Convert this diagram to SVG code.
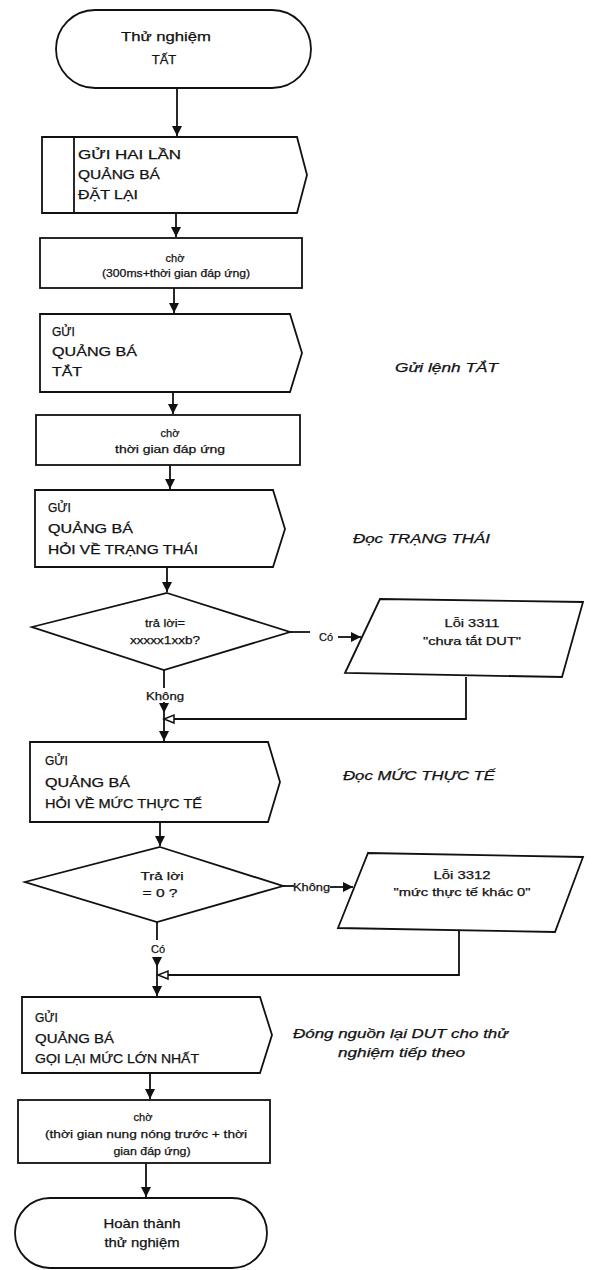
<svg xmlns="http://www.w3.org/2000/svg" width="615" height="1270" viewBox="0 0 615 1270">
<style>
.s{fill:#fff;stroke:#111;stroke-width:1.8;stroke-linejoin:miter}
.c{fill:none;stroke:#111;stroke-width:1.8}
text{font-family:"Liberation Sans",Arial,sans-serif;fill:#111;stroke:#111;stroke-width:0.25}
.b{font-size:12px}
.m{font-size:11px;text-anchor:middle}
.t{font-size:13px;text-anchor:middle}
.i{font-size:12.5px;font-style:italic}
.l{font-size:11px}
</style>
<defs>
<marker id="a" markerUnits="userSpaceOnUse" markerWidth="12" markerHeight="12" refX="10" refY="5" orient="auto"><path d="M0,0 L10,5 L0,10 z" fill="#111"/></marker>
<marker id="o" markerUnits="userSpaceOnUse" markerWidth="14" markerHeight="12" refX="11" refY="5" orient="auto"><path d="M1,1 L11,5 L1,9 z" fill="#fff" stroke="#111" stroke-width="1.5"/></marker>
</defs>
<rect width="615" height="1270" fill="#fff"/>
<g id="connectors">
<path class="c" d="M177,88 V136" marker-end="url(#a)"/>
<path class="c" d="M176,213 V237" marker-end="url(#a)"/>
<path class="c" d="M174,288 V313" marker-end="url(#a)"/>
<path class="c" d="M173,392 V414" marker-end="url(#a)"/>
<path class="c" d="M170,465 V489" marker-end="url(#a)"/>
<path class="c" d="M167,567 V592" marker-end="url(#a)"/>
<path class="c" d="M290,632 H310"/>
<path class="c" d="M338,637 H361" marker-end="url(#a)"/>
<path class="c" d="M466,677 V719 H164" marker-end="url(#o)"/>
<path class="c" d="M164,670 V688"/>
<path class="c" d="M164,702 V713" marker-end="url(#a)"/>
<path class="c" d="M164,713 V741" marker-end="url(#a)"/>
<path class="c" d="M160,822 V846" marker-end="url(#a)"/>
<path class="c" d="M283,886 H294"/>
<path class="c" d="M330,887 H353" marker-end="url(#a)"/>
<path class="c" d="M459,930 V975 H158" marker-end="url(#o)"/>
<path class="c" d="M157,922 V940"/>
<path class="c" d="M157,957 V967" marker-end="url(#a)"/>
<path class="c" d="M157,967 V996" marker-end="url(#a)"/>
<path class="c" d="M150,1073 V1099" marker-end="url(#a)"/>
<path class="c" d="M146,1163 V1197" marker-end="url(#a)"/>
</g>
<g id="start">
<rect class="s" x="56" y="10" width="255" height="78" rx="39"/>
<text class="t" x="166" y="41" textLength="90" lengthAdjust="spacingAndGlyphs">Thử nghiệm</text>
<text class="t" x="164" y="64">TẤT</text>
</g>
<g id="send-reset">
<path class="s" d="M42,137 H297 L307,175 L297,213 H42 Z"/>
<path class="c" d="M74,137 V213"/>
<text class="b" x="78" y="159" textLength="103" lengthAdjust="spacingAndGlyphs">GỬI HAI LẦN</text>
<text class="b" x="78" y="179" textLength="82" lengthAdjust="spacingAndGlyphs">QUẢNG BÁ</text>
<text class="b" x="78" y="199" textLength="60" lengthAdjust="spacingAndGlyphs">ĐẶT LẠI</text>
</g>
<g id="wait1">
<rect class="s" x="40" y="238" width="262" height="50"/>
<text class="m" x="175" y="262">chờ</text>
<text class="m" x="176" y="277" textLength="148" lengthAdjust="spacingAndGlyphs">(300ms+thời gian đáp ứng)</text>
</g>
<g id="send-off">
<path class="s" d="M40,314 H290 L302,353 L290,392 H40 Z"/>
<text class="b" x="52" y="336">GỬI</text>
<text class="b" x="52" y="356" textLength="85" lengthAdjust="spacingAndGlyphs">QUẢNG BÁ</text>
<text class="b" x="52" y="376" textLength="30" lengthAdjust="spacingAndGlyphs">TẮT</text>
</g>
<g id="wait2">
<rect class="s" x="36" y="415" width="264" height="50"/>
<text class="m" x="170" y="437">chờ</text>
<text class="m" x="170" y="453" textLength="110" lengthAdjust="spacingAndGlyphs">thời gian đáp ứng</text>
</g>
<g id="send-status">
<path class="s" d="M35,490 H273 L285,529 L273,567 H35 Z"/>
<text class="b" x="48" y="512">GỬI</text>
<text class="b" x="48" y="533" textLength="85" lengthAdjust="spacingAndGlyphs">QUẢNG BÁ</text>
<text class="b" x="48" y="554" textLength="150" lengthAdjust="spacingAndGlyphs">HỎI VỀ TRẠNG THÁI</text>
</g>
<g id="decision1">
<path class="s" d="M167,593 L290,632 L164,670 L32,627 Z"/>
<text class="m" x="165" y="627" textLength="40" lengthAdjust="spacingAndGlyphs">trả lời=</text>
<text class="m" x="165" y="644" textLength="70" lengthAdjust="spacingAndGlyphs">xxxxx1xxb?</text>
</g>
<text class="m" x="326" y="641">Có</text>
<text class="m" x="165" y="700" textLength="38" lengthAdjust="spacingAndGlyphs">Không</text>
<g id="error3311">
<path class="s" d="M380,599 L583,602 L562,677 L345,673 Z"/>
<text class="m" x="472" y="627" textLength="55" lengthAdjust="spacingAndGlyphs">Lỗi 3311</text>
<text class="m" x="472" y="645" textLength="98" lengthAdjust="spacingAndGlyphs">"chưa tắt DUT"</text>
</g>
<g id="send-level">
<path class="s" d="M30,742 H268 L280,782 L268,822 H30 Z"/>
<text class="b" x="45" y="765">GỬI</text>
<text class="b" x="45" y="787" textLength="85" lengthAdjust="spacingAndGlyphs">QUẢNG BÁ</text>
<text class="b" x="45" y="808" textLength="157" lengthAdjust="spacingAndGlyphs">HỎI VỀ MỨC THỰC TẾ</text>
</g>
<g id="decision2">
<path class="s" d="M160,847 L283,886 L157,922 L25,882 Z"/>
<text class="m" x="162" y="880" textLength="43" lengthAdjust="spacingAndGlyphs">Trả lời</text>
<text class="m" x="160" y="897" textLength="35" lengthAdjust="spacingAndGlyphs">= 0 ?</text>
</g>
<text class="l" x="293" y="891" textLength="37" lengthAdjust="spacingAndGlyphs">Không</text>
<text class="m" x="158" y="953">Có</text>
<g id="error3312">
<path class="s" d="M368,853 L583,857 L555,932 L338,928 Z"/>
<text class="m" x="462" y="879" textLength="57" lengthAdjust="spacingAndGlyphs">Lỗi 3312</text>
<text class="m" x="462" y="896" textLength="137" lengthAdjust="spacingAndGlyphs">"mức thực tế khác 0"</text>
</g>
<g id="send-max">
<path class="s" d="M22,997 H260 L272,1035 L260,1073 H22 Z"/>
<text class="b" x="35" y="1022">GỬI</text>
<text class="b" x="35" y="1043" textLength="79" lengthAdjust="spacingAndGlyphs">QUẢNG BÁ</text>
<text class="b" x="35" y="1063" textLength="164" lengthAdjust="spacingAndGlyphs">GỌI LẠI MỨC LỚN NHẤT</text>
</g>
<g id="wait3">
<rect class="s" x="18" y="1100" width="252" height="63"/>
<text class="m" x="143" y="1121">chờ</text>
<text class="m" x="146" y="1138" textLength="202" lengthAdjust="spacingAndGlyphs">(thời gian nung nóng trước + thời</text>
<text class="m" x="152" y="1155" textLength="77" lengthAdjust="spacingAndGlyphs">gian đáp ứng)</text>
</g>
<g id="end">
<rect class="s" x="15" y="1198" width="252" height="70" rx="35"/>
<text class="t" x="142" y="1228" textLength="77" lengthAdjust="spacingAndGlyphs">Hoàn thành</text>
<text class="t" x="142" y="1247" textLength="75" lengthAdjust="spacingAndGlyphs">thử nghiệm</text>
</g>
<g id="notes">
<text class="i" x="395" y="372" textLength="103" lengthAdjust="spacingAndGlyphs">Gửi lệnh TẮT</text>
<text class="i" x="353" y="543" textLength="137" lengthAdjust="spacingAndGlyphs">Đọc TRẠNG THÁI</text>
<text class="i" x="343" y="780" textLength="152" lengthAdjust="spacingAndGlyphs">Đọc MỨC THỰC TẾ</text>
<text class="i" x="293" y="1038" textLength="215" lengthAdjust="spacingAndGlyphs">Đóng nguồn lại DUT cho thử</text>
<text class="i" x="338" y="1057" textLength="127" lengthAdjust="spacingAndGlyphs">nghiệm tiếp theo</text>
</g>
</svg>
